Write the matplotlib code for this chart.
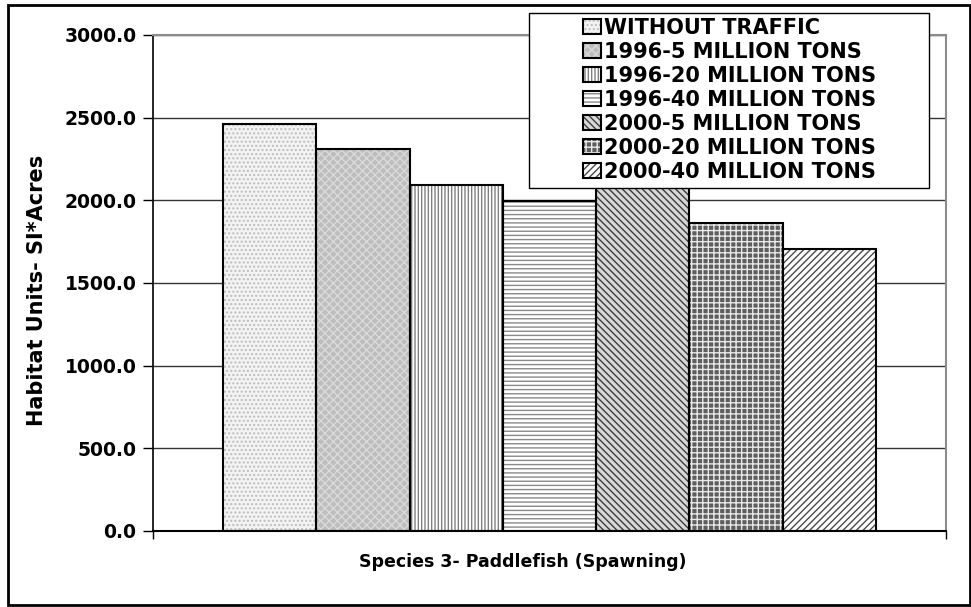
import matplotlib
matplotlib.use("Agg")
import matplotlib.pyplot as plt
from matplotlib.patches import Rectangle
import numpy as np

# data
series = ["WITHOUT TRAFFIC", "1996-5 MILLION TONS", "1996-20 MILLION TONS",
          "1996-40 MILLION TONS", "2000-5 MILLION TONS", "2000-20 MILLION TONS",
          "2000-40 MILLION TONS"]
values = [2460, 2310, 2095, 1995, 2200, 1860, 1705]
category = "Species 3- Paddlefish (Spawning)"
yticks = [0, 500, 1000, 1500, 2000, 2500, 3000]

# fill styles, one per series
faces = ['#f3f3f3', '#bdbdbd', 'white', 'white', '#d8d8d8', '#5e5e5e', 'white']
hatch_colors = ['#bdbdbd', '#dadada', '#808080', '#8a8a8a', '#3c3c3c', '#e8e8e8', '#4a4a4a']
hatches = ['....', 'xxxx', '|||||', '----', '\\\\\\\\\\', '+++', '/////']

plt.rcParams['font.family'] = 'DejaVu Sans'
plt.rcParams['font.weight'] = 'bold'
plt.rcParams['hatch.linewidth'] = 1.0

W, H = 971, 607
fig = plt.figure(figsize=(W / 100, H / 100), dpi=100)
ax = fig.add_axes([153 / W, (H - 531) / H, (946 - 153) / W, (531 - 35) / H])

x = np.arange(len(values))
fills = ax.bar(x, values, width=1.0, color=faces, edgecolor=hatch_colors,
               linewidth=0, zorder=2)
for b, h in zip(fills, hatches):
    b.set_hatch(h)
outlines = ax.bar(x, values, width=1.0, fill=False, edgecolor='black',
                  linewidth=1.5, zorder=3)

ax.set_xlim(-1.25, 7.25)
ax.set_ylim(0, 3000)
ax.set_yticks(yticks)
ax.set_yticklabels([f"{v:.1f}" for v in yticks], fontsize=13.5, fontweight='bold')
ax.tick_params(axis='y', length=7, width=1, pad=5)

ax.set_xticks([-1.25, 7.25])
ax.set_xticklabels(['', ''])
ax.tick_params(axis='x', length=6, width=1, direction='out')
fig.text(523 / W, 1 - 562 / H, category, ha='center', va='center',
         fontsize=12.5, fontweight='bold')

ax.yaxis.grid(True, color='#333333', linewidth=1)
ax.set_axisbelow(True)
for s in ['top', 'right']:
    ax.spines[s].set_color('#8c8c8c')
    ax.spines[s].set_linewidth(1.5)
ax.spines['left'].set_linewidth(1.2)
ax.spines['bottom'].set_linewidth(1.5)

fig.text(37 / W, 1 - 290 / H, "Habitat Units- SI*Acres", rotation=90,
         ha='center', va='center', fontsize=15, fontweight='bold')

# legend box and entries
fig.add_artist(Rectangle((529 / W, 1 - 188 / H), 400 / W, 175 / H,
                         transform=fig.transFigure, facecolor='white',
                         edgecolor='black', linewidth=1, zorder=1))
handles = [(f, o) for f, o in zip(fills, outlines)]
fig.legend(handles, series, loc='upper left', bbox_to_anchor=(583 / W, 1 - 18 / H),
           frameon=False, borderpad=0, borderaxespad=0,
           handlelength=0.85, handleheight=0.7, handletextpad=0.15,
           labelspacing=0.19, prop={'weight': 'bold', 'size': 15})

# outer frame
fig.add_artist(Rectangle((8 / W, 1 - 605 / H), 962 / W, 600 / H,
                         transform=fig.transFigure, fill=False,
                         edgecolor='black', linewidth=2))

fig.savefig("out.png", dpi=100)
